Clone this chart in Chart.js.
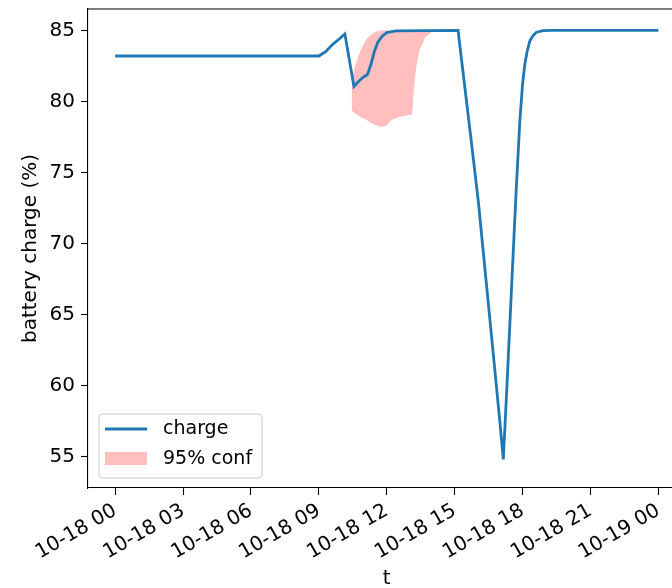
<!DOCTYPE html>
<html>
<head>
<meta charset="utf-8">
<script src="https://cdn.jsdelivr.net/npm/chart.js@4/dist/chart.umd.min.js"></script>
<style>
  html, body { margin: 0; padding: 0; background: #fff; overflow: hidden; width: 672px; height: 588px; }
  #wrap { position: absolute; left: 0; top: 0; width: 700px; height: 591px; }
</style>
</head>
<body>
<div id="wrap"><canvas id="chart" width="700" height="591"></canvas></div>
<script>
// Battery charge over one day (hours after 10-18 00:00)
const chargeHours = [0, 9.0, 9.3, 9.6, 9.9, 10.15, 10.35, 10.55, 10.75, 10.95, 11.15, 11.3, 11.45, 11.6, 11.8, 12.0, 12.4,
  15.15, 15.45, 15.75, 16.05, 16.4, 16.75, 17.0, 17.15,
  17.3, 17.5, 17.72, 17.88, 18.0, 18.1, 18.2, 18.32, 18.47, 18.62, 18.9, 19.3, 24.0];
const chargeValues = [83.2, 83.2, 83.5, 84.0, 84.4, 84.75, 82.9, 81.05, 81.4, 81.7, 81.9, 82.6, 83.5, 84.15, 84.6, 84.85, 84.97,
  85.0, 81.0, 77.0, 72.9, 67.2, 61.5, 57.4, 54.8,
  59.6, 66.4, 73.8, 78.6, 81.2, 82.6, 83.5, 84.25, 84.65, 84.88, 84.99, 85.0, 85.0];

// 95% confidence band around the estimate
const bandHours = [10.45, 10.5, 10.6, 10.75, 10.9, 11.05, 11.2, 11.35, 11.5, 11.75, 12.0, 12.2, 12.55, 13.0, 13.12, 13.2, 13.3, 13.45, 13.7, 14.0, 14.2];
const bandLower = [79.4, 79.3, 79.15, 79.0, 78.85, 78.75, 78.6, 78.45, 78.35, 78.2, 78.3, 78.7, 78.9, 79.05, 79.1, 80.9, 82.4, 83.6, 84.5, 84.9, 85.0];
const bandUpper = [81.4, 81.9, 82.5, 83.2, 83.8, 84.25, 84.55, 84.75, 84.9, 85.0, 85.0, 85.0, 85.0, 85.0, 85.0, 85.0, 85.0, 85.0, 85.0, 85.0, 85.0];

// Axis ticks
const xTickHours = [0, 3, 6, 9, 12, 15, 18, 21, 24];
const xTickLabels = ['10-18 00', '10-18 03', '10-18 06', '10-18 09', '10-18 12', '10-18 15', '10-18 18', '10-18 21', '10-19 00'];
const yTickValues = [55, 60, 65, 70, 75, 80, 85];

const toPoints = (xs, ys) => xs.map((x, i) => ({ x: x, y: ys[i] }));

Chart.defaults.font.family = "'DejaVu Sans', sans-serif";
Chart.defaults.font.size = 20;
Chart.defaults.color = '#000';

// Top and right spines
const frame = {
  id: 'frame',
  afterDatasetsDraw(chart) {
    const { ctx, chartArea: a } = chart;
    ctx.save();
    ctx.strokeStyle = '#000';
    ctx.lineWidth = 1.1;
    ctx.beginPath();
    ctx.moveTo(a.left, a.top);
    ctx.lineTo(a.right, a.top);
    ctx.lineTo(a.right, a.bottom);
    ctx.stroke();
    ctx.restore();
  }
};

// Framed legend in the lower-left corner of the plot
const boxLegend = {
  id: 'boxLegend',
  afterDraw(chart) {
    const { ctx, chartArea: a } = chart;
    const line = chart.data.datasets[0];
    const band = chart.data.datasets[2];
    const x = a.left + 11, y = a.bottom - 74, w = 163, h = 64, r = 4;
    ctx.save();
    ctx.beginPath();
    ctx.moveTo(x + r, y);
    ctx.arcTo(x + w, y, x + w, y + h, r);
    ctx.arcTo(x + w, y + h, x, y + h, r);
    ctx.arcTo(x, y + h, x, y, r);
    ctx.arcTo(x, y, x + w, y, r);
    ctx.closePath();
    ctx.fillStyle = 'rgba(255,255,255,0.8)';
    ctx.fill();
    ctx.strokeStyle = '#cccccc';
    ctx.lineWidth = 1.1;
    ctx.stroke();

    ctx.strokeStyle = line.borderColor;
    ctx.lineWidth = line.borderWidth;
    ctx.beginPath();
    ctx.moveTo(x + 6, y + 15);
    ctx.lineTo(x + 48, y + 15);
    ctx.stroke();

    ctx.fillStyle = band.backgroundColor;
    ctx.fillRect(x + 6, y + 38, 42, 13);

    ctx.fillStyle = '#000';
    ctx.font = "19px 'DejaVu Sans', sans-serif";
    ctx.textBaseline = 'middle';
    ctx.textAlign = 'left';
    ctx.fillText(line.label, x + 64, y + 15);
    ctx.fillText(band.label, x + 64, y + 45);
    ctx.restore();
  }
};

const tickGrid = { display: true, drawOnChartArea: false, drawTicks: true, tickLength: 7, tickWidth: 1.1, tickColor: '#000' };
const axisBorder = { display: true, color: '#000', width: 1.1 };

new Chart(document.getElementById('chart'), {
  type: 'line',
  data: {
    datasets: [
      {
        label: 'charge',
        data: toPoints(chargeHours, chargeValues),
        borderColor: '#1f77b4',
        borderWidth: 2.8,
        pointRadius: 0,
        tension: 0,
        fill: false,
        order: 0
      },
      {
        label: '95% conf lower',
        data: toPoints(bandHours, bandLower),
        borderColor: 'rgba(0,0,0,0)',
        borderWidth: 0,
        pointRadius: 0,
        tension: 0,
        fill: false,
        order: 1
      },
      {
        label: '95% conf',
        data: toPoints(bandHours, bandUpper),
        borderColor: 'rgba(0,0,0,0)',
        borderWidth: 0,
        backgroundColor: 'rgba(255,0,0,0.25)',
        pointRadius: 0,
        tension: 0,
        fill: 1,
        order: 1
      }
    ]
  },
  options: {
    responsive: false,
    animation: false,
    devicePixelRatio: 1,
    events: [],
    layout: { padding: { top: 9, right: 14.5, left: 0, bottom: 0 } },
    plugins: {
      legend: { display: false },
      tooltip: { enabled: false }
    },
    scales: {
      x: {
        type: 'linear',
        min: -1.2,
        max: 25.2,
        grid: tickGrid,
        border: axisBorder,
        afterBuildTicks: (s) => { s.ticks = xTickHours.map(v => ({ value: v })); },
        afterFit: (s) => { s.height = 103; s.paddingLeft = 0; s.paddingRight = 0; },
        ticks: {
          autoSkip: false,
          minRotation: 30,
          maxRotation: 30,
          padding: 4,
          color: '#000',
          callback: (v) => xTickLabels[xTickHours.indexOf(v)]
        },
        title: { display: true, text: 't', color: '#000', padding: 0 }
      },
      y: {
        type: 'linear',
        min: 52.78,
        max: 86.51,
        grid: tickGrid,
        border: axisBorder,
        afterBuildTicks: (s) => { s.ticks = yTickValues.map(v => ({ value: v })); },
        afterFit: (s) => { s.width = 88; s.paddingTop = 0; s.paddingBottom = 0; },
        ticks: { padding: 6, color: '#000', callback: (v) => String(v) },
        title: { display: true, text: 'battery charge (%)', color: '#000', padding: { top: 19, bottom: 0 } }
      }
    }
  },
  plugins: [frame, boxLegend]
});
</script>
</body>
</html>
